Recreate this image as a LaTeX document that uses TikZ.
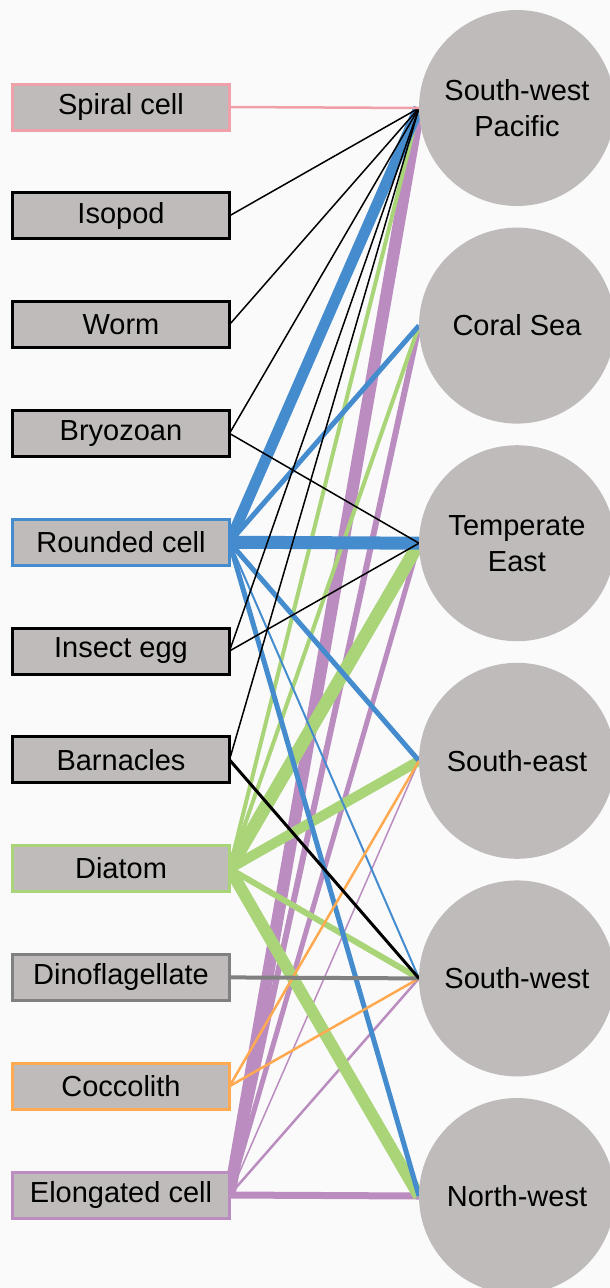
\documentclass[tikz,border=0pt]{standalone}
\usepackage{fontspec}
\setmainfont{Liberation Sans}
\usetikzlibrary{positioning, backgrounds}
\definecolor{cellgray}{RGB}{191,187,186}
\definecolor{spiralpink}{RGB}{240,160,168}
\definecolor{roundblue}{RGB}{68,140,206}
\definecolor{diagreen}{RGB}{170,212,120}
\definecolor{dinogray}{RGB}{128,128,128}
\definecolor{coccoorange}{RGB}{255,170,80}
\definecolor{elongpurple}{RGB}{187,140,192}
\definecolor{paper}{RGB}{250,250,250}

\begin{document}
\begin{tikzpicture}[
  x=1pt, y=-1pt,
  taxon/.style={rectangle, draw=black, line width=3pt, fill=cellgray, minimum width=217pt, minimum height=46pt, outer sep=0pt, font=\fontsize{29}{34}\selectfont},
  region/.style={circle, fill=cellgray, minimum size=196pt, inner sep=0pt, outer sep=0pt, align=center, font=\fontsize{29}{36}\selectfont},
  link/.style={line width=#1}
]
\useasboundingbox (0,0) rectangle (610,1288);

% taxa on the left
\node[taxon, draw=spiralpink] (spiral) at (121,107) {Spiral cell};
\node[taxon, below=62.8pt of spiral] (isopod) {Isopod};
\node[taxon, below=62.8pt of isopod] (worm) {Worm};
\node[taxon, below=62.8pt of worm] (bryozoan) {Bryozoan};
\node[taxon, draw=roundblue, below=62.8pt of bryozoan] (rounded) {Rounded cell};
\node[taxon, below=62.8pt of rounded] (insect) {Insect egg};
\node[taxon, below=62.8pt of insect] (barnacles) {Barnacles};
\node[taxon, draw=diagreen, below=62.8pt of barnacles] (diatom) {Diatom};
\node[taxon, draw=dinogray, below=62.8pt of diatom] (dino) {Dinoflagellate};
\node[taxon, draw=coccoorange, below=62.8pt of dino] (coccolith) {Coccolith};
\node[taxon, draw=elongpurple, below=62.8pt of coccolith] (elongated) {Elongated cell};

% regions on the right
\node[region] (swp) at (517,108) {South-west\\Pacific};
\node[region, below=21.6pt of swp] (coral) {Coral Sea};
\node[region, below=21.6pt of coral] (tempeast) {Temperate\\East};
\node[region, below=21.6pt of tempeast] (southeast) {South-east};
\node[region, below=21.6pt of southeast] (southwest) {South-west};
\node[region, below=21.6pt of southwest] (northwest) {North-west};

\begin{pgfonlayer}{background}
\fill[paper] (0,0) rectangle (610,1288);
% elongated cell
\draw[link=12pt, elongpurple] (elongated.east) -- (swp.west);
\draw[link=6pt, elongpurple] (elongated.east) -- (coral.west);
\draw[link=5pt, elongpurple] (elongated.east) -- (tempeast.west);
\draw[link=1.5pt, elongpurple] (elongated.east) -- (southeast.west);
\draw[link=2.5pt, elongpurple] (elongated.east) -- (southwest.west);
\draw[link=7pt, elongpurple] (elongated.east) -- (northwest.west);
% diatom
\draw[link=4pt, diagreen] (diatom.east) -- (swp.west);
\draw[link=4pt, diagreen] (diatom.east) -- (coral.west);
\draw[link=13pt, diagreen] (diatom.east) -- (tempeast.west);
\draw[link=10pt, diagreen] (diatom.east) -- (southeast.west);
\draw[link=6pt, diagreen] (diatom.east) -- (southwest.west);
\draw[link=12pt, diagreen] (diatom.east) -- (northwest.west);
% rounded cell
\draw[link=11pt, roundblue] (rounded.east) -- (swp.west);
\draw[link=5pt, roundblue] (rounded.east) -- (coral.west);
\draw[link=13pt, roundblue] (rounded.east) -- (tempeast.west);
\draw[link=5pt, roundblue] (rounded.east) -- (southeast.west);
\draw[link=2pt, roundblue] (rounded.east) -- (southwest.west);
\draw[link=5pt, roundblue] (rounded.east) -- (northwest.west);
% coccolith, dinoflagellate
\draw[link=2.5pt, coccoorange] (coccolith.east) -- (southeast.west);
\draw[link=2.5pt, coccoorange] (coccolith.east) -- (southwest.west);
\draw[link=4pt, dinogray] (dino.east) -- (southwest.west);
% black taxa
\draw[link=1.5pt] (isopod.east) -- (swp.west);
\draw[link=1.5pt] (worm.east) -- (swp.west);
\draw[link=1.5pt] (bryozoan.east) -- (swp.west);
\draw[link=1.5pt] (bryozoan.east) -- (tempeast.west);
\draw[link=1.5pt] (insect.east) -- (swp.west);
\draw[link=1.5pt] (insect.east) -- (tempeast.west);
\draw[link=1.5pt] (barnacles.east) -- (swp.west);
\draw[link=3pt] (barnacles.east) -- (southwest.west);
\draw[link=2.5pt, spiralpink] (spiral.east) -- (swp.west);
\end{pgfonlayer}
\end{tikzpicture}
\end{document}
